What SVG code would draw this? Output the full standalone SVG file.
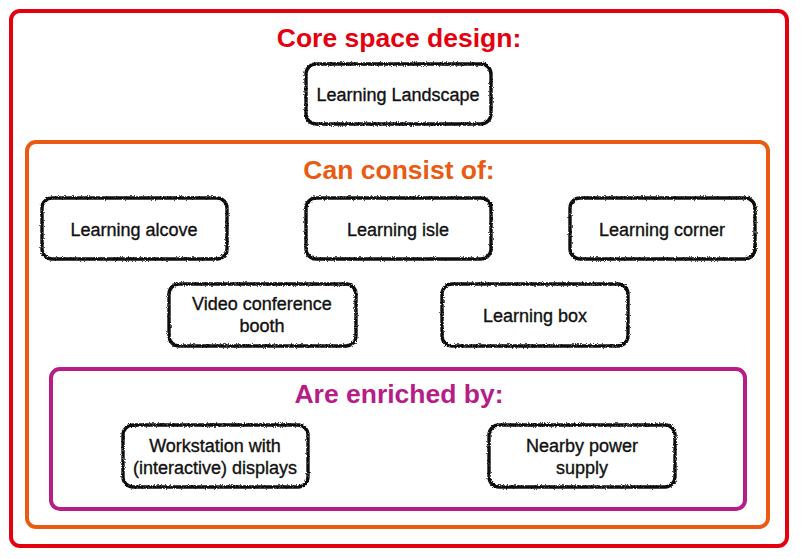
<svg xmlns="http://www.w3.org/2000/svg" width="801" height="559" viewBox="0 0 801 559">
<defs>
<filter id="rough" x="-5%" y="-10%" width="110%" height="120%">
<feTurbulence type="fractalNoise" baseFrequency="0.9" numOctaves="2" seed="3" result="n"/>
<feDisplacementMap in="SourceGraphic" in2="n" scale="3" xChannelSelector="R" yChannelSelector="G"/>
</filter>
</defs>
<style>
.frame{fill:none;stroke-width:4}
.title{font-family:"Liberation Sans",Arial,sans-serif;font-weight:bold;font-size:26.5px;text-anchor:middle}
.box{fill:#fff;stroke:#111;stroke-width:3.4;filter:url(#rough)}
.lbl{font-family:"Liberation Sans",Arial,sans-serif;font-size:18px;fill:#111;stroke:#111;stroke-width:0.35;text-anchor:middle}
</style>
<rect width="801" height="559" fill="#fff"/>
<g id="core">
<rect class="frame" x="11" y="11" width="776" height="535" rx="9" stroke="#E5000F"/>
<text class="title" x="399" y="47" fill="#E5000F">Core space design:</text>
</g>
<g id="consist">
<rect class="frame" x="27" y="142" width="741" height="385" rx="9" stroke="#EA5A12"/>
<text class="title" x="399" y="179" fill="#EA5A12">Can consist of:</text>
</g>
<g id="enriched">
<rect class="frame" x="51" y="369" width="694" height="140" rx="9" stroke="#B71D87"/>
<text class="title" x="399" y="403" fill="#B71D87">Are enriched by:</text>
</g>
<g id="n-landscape">
<rect class="box" x="306" y="64" width="185" height="60" rx="10"/>
<text class="lbl" x="398" y="101">Learning Landscape</text>
</g>
<g id="n-alcove">
<rect class="box" x="42" y="198" width="185" height="61" rx="10"/>
<text class="lbl" x="134" y="236">Learning alcove</text>
</g>
<g id="n-isle">
<rect class="box" x="306" y="198" width="185" height="61" rx="10"/>
<text class="lbl" x="398" y="236">Learning isle</text>
</g>
<g id="n-corner">
<rect class="box" x="570" y="198" width="185" height="61" rx="10"/>
<text class="lbl" x="662" y="236">Learning corner</text>
</g>
<g id="n-video">
<rect class="box" x="169" y="284" width="187" height="62" rx="10"/>
<text class="lbl" x="262" y="310">Video conference</text>
<text class="lbl" x="262" y="332">booth</text>
</g>
<g id="n-box">
<rect class="box" x="442" y="284" width="186" height="62" rx="10"/>
<text class="lbl" x="535" y="322">Learning box</text>
</g>
<g id="n-workstation">
<rect class="box" x="123" y="425" width="185" height="62" rx="10"/>
<text class="lbl" x="215" y="452">Workstation with</text>
<text class="lbl" x="215" y="474">(interactive) displays</text>
</g>
<g id="n-power">
<rect class="box" x="489" y="425" width="186" height="62" rx="10"/>
<text class="lbl" x="582" y="452">Nearby power</text>
<text class="lbl" x="582" y="474">supply</text>
</g>
<g id="connectors"/>
</svg>
